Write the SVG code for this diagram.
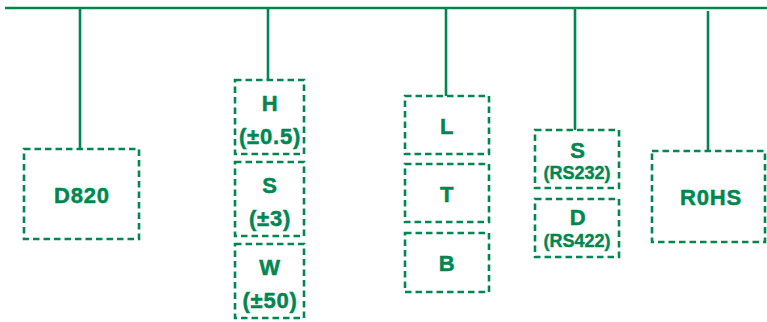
<svg xmlns="http://www.w3.org/2000/svg" width="767" height="322" viewBox="0 0 767 322">
<style>
.box{fill:none;stroke:#008751;stroke-width:2.6;stroke-dasharray:6.5 4}
.ln{stroke:#008751;stroke-width:2.6;fill:none}
.t{font-family:"Liberation Sans",Arial,sans-serif;font-weight:bold;font-size:22px;fill:#008751;stroke:#008751;stroke-width:0.5;text-anchor:middle;letter-spacing:0.8px}
.s{font-family:"Liberation Sans",Arial,sans-serif;font-weight:bold;font-size:18px;fill:#008751;stroke:#008751;stroke-width:0.4;text-anchor:middle}
</style>
<rect width="767" height="322" fill="#ffffff"/>
<g id="connectors">
<line class="ln" x1="5" y1="8" x2="767" y2="8" stroke-width="3"/>
<line class="ln" x1="80" y1="8" x2="80" y2="149"/>
<line class="ln" x1="268" y1="8" x2="268" y2="80"/>
<line class="ln" x1="446" y1="8" x2="446" y2="96"/>
<line class="ln" x1="575" y1="8" x2="575" y2="130"/>
<line class="ln" x1="708" y1="11" x2="708" y2="151"/>
</g>
<g id="d820">
<rect class="box" x="24" y="149" width="115" height="90"/>
<text class="t" x="82" y="202.5">D820</text>
</g>
<g id="h">
<rect class="box" x="235" y="80" width="69" height="74"/>
<text class="t" x="270" y="111">H</text>
<text class="t" x="270" y="143.5">(±0.5)</text>
</g>
<g id="s3">
<rect class="box" x="235" y="162" width="69" height="74"/>
<text class="t" x="270" y="193">S</text>
<text class="t" x="270" y="225.5">(±3)</text>
</g>
<g id="w">
<rect class="box" x="235" y="244" width="69" height="74"/>
<text class="t" x="270" y="274.5">W</text>
<text class="t" x="270" y="307.5">(±50)</text>
</g>
<g id="l">
<rect class="box" x="405" y="96" width="84" height="58"/>
<text class="t" x="447" y="134">L</text>
</g>
<g id="t">
<rect class="box" x="405" y="164" width="84" height="58"/>
<text class="t" x="447" y="202">T</text>
</g>
<g id="b">
<rect class="box" x="405" y="233" width="84" height="59"/>
<text class="t" x="447" y="270.5">B</text>
</g>
<g id="rs232">
<rect class="box" x="535" y="130" width="84" height="58"/>
<text class="t" x="578" y="158">S</text>
<text class="s" x="577" y="178.5">(RS232)</text>
</g>
<g id="rs422">
<rect class="box" x="535" y="199" width="84" height="58"/>
<text class="t" x="578" y="224.5">D</text>
<text class="s" x="577" y="246.5">(RS422)</text>
</g>
<g id="rohs">
<rect class="box" x="652" y="151" width="113" height="91"/>
<text class="t" x="711" y="204.5">R0HS</text>
</g>
</svg>
